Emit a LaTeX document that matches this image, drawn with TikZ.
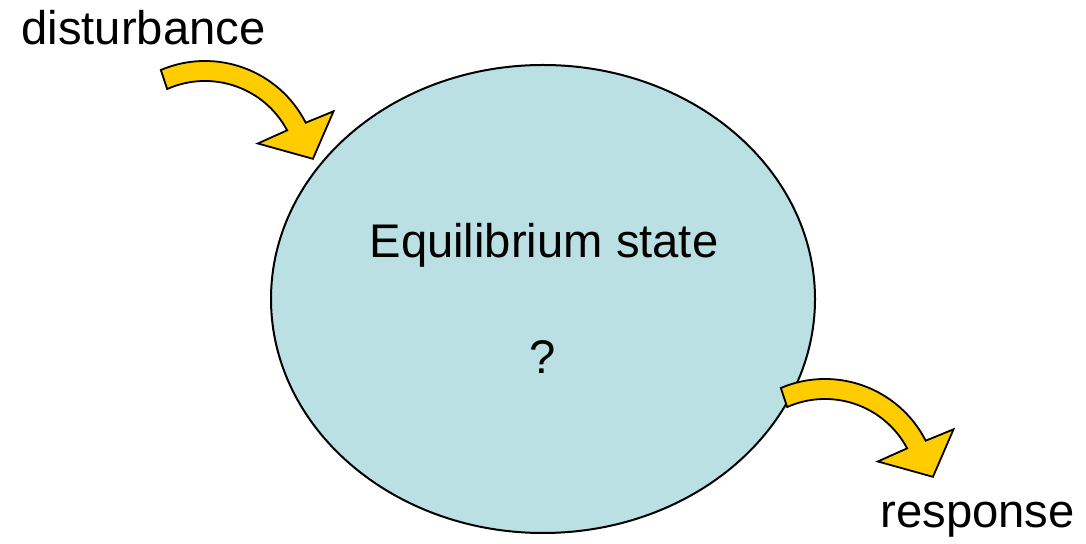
\documentclass[tikz,border=0pt]{standalone}
\usepackage{fontspec}
\setmainfont{Liberation Sans}
\usepackage{tikz}
\usetikzlibrary{shapes.geometric, positioning}
\definecolor{statefill}{RGB}{186, 224, 227}
\definecolor{arrowgold}{RGB}{255, 204, 0}

\begin{document}
\begin{tikzpicture}[
    x=0.5pt, y=-0.5pt,
    state/.style={
        ellipse,
        draw=black,
        fill=statefill,
        line width=1pt,
        inner sep=0pt,
        minimum width=272pt,
        minimum height=234pt
    },
    label/.style={
        inner sep=0pt,
        font=\fontsize{23.6}{28}\selectfont
    },
    bendarrow/.style={
        draw=black,
        fill=arrowgold,
        line width=0.9pt,
        line join=miter
    }
]
    \useasboundingbox (0,0) rectangle (1086,544);

    % Central state
    \node[state] (eq) at (543,299) {};
    \node[label, anchor=base] (eqtxt) at (544,258) {Equilibrium state};
    \node[label, anchor=base] (qm) at (543,374) {?};

    % Outer labels
    \node[label, anchor=base west] (dist) at (21,45) {disturbance};
    \node[label, anchor=base east] (resp) at (1075,527) {response};

    % Arc centres of the two block arrows
    \coordinate (inc) at (205,174);
    \coordinate (outc) at (825,492);

    % Incoming block arrow
    \draw[bendarrow] ([shift={(-113:113)}]inc) arc[start angle=-113, end angle=-27, radius=113]
        -- ([shift={(-26:143)}]inc) -- ([shift={(-8:109)}]inc) -- ([shift={(-30:61)}]inc)
        -- ([shift={(-28:93)}]inc) arc[start angle=-28, end angle=-114, radius=93] -- cycle;

    % Outgoing block arrow
    \draw[bendarrow] ([shift={(-113:113)}]outc) arc[start angle=-113, end angle=-27, radius=113]
        -- ([shift={(-26:143)}]outc) -- ([shift={(-8:109)}]outc) -- ([shift={(-30:61)}]outc)
        -- ([shift={(-28:93)}]outc) arc[start angle=-28, end angle=-114, radius=93] -- cycle;
\end{tikzpicture}
\end{document}
